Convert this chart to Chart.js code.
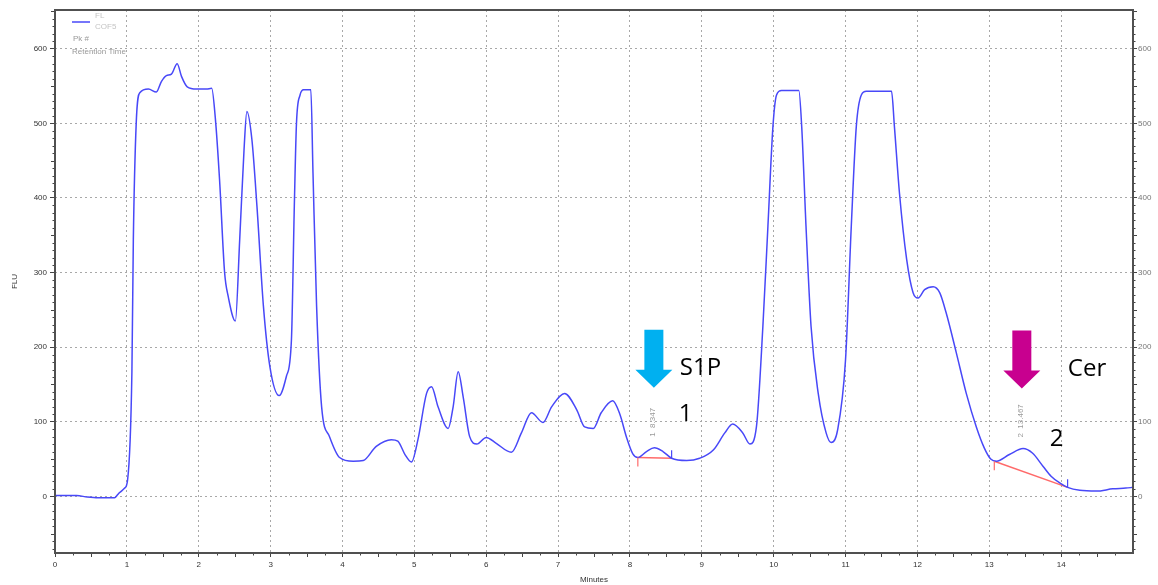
<!DOCTYPE html>
<html>
<head>
<meta charset="utf-8">
<script src="https://cdn.jsdelivr.net/npm/chart.js@4.4.0/dist/chart.umd.min.js"></script>
<style>
html, body { margin: 0; padding: 0; background: #fff; }
</style>
</head>
<body>
<canvas id="grafico" width="1158" height="585"></canvas>
<script>
var minutes = [0, 0.3, 0.45, 0.6, 0.83, 0.87, 0.9, 0.97, 1.01, 1.07, 1.09, 1.13, 1.18, 1.30, 1.41, 1.48, 1.55, 1.62, 1.70, 1.76, 1.84, 1.97, 2.11, 2.18,
	2.23, 2.29, 2.36, 2.41, 2.51, 2.57, 2.63, 2.67, 2.74, 2.81, 2.90, 2.99, 3.12, 3.22, 3.29, 3.33, 3.36, 3.41, 3.46, 3.56, 3.59, 3.64, 3.71, 3.82,
	3.96, 4.15, 4.29, 4.47, 4.68, 4.77, 4.87, 4.96, 5.05, 5.17, 5.24, 5.33, 5.47, 5.54, 5.61, 5.68, 5.77, 5.87, 6.00, 6.14, 6.35, 6.49, 6.63, 6.79,
	6.91, 7.09, 7.26, 7.37, 7.49, 7.60, 7.76, 7.86, 7.95, 8.04, 8.11, 8.23, 8.34, 8.46, 8.58, 8.79, 8.97, 9.16, 9.32, 9.43, 9.57, 9.67, 9.76, 9.85,
	9.92, 9.99, 10.04, 10.11, 10.35, 10.39, 10.45, 10.52, 10.62, 10.73, 10.80, 10.89, 11.00, 11.08, 11.15, 11.22, 11.29, 11.64, 11.68, 11.75, 11.85,
	11.94, 12.01, 12.10, 12.22, 12.31, 12.40, 12.54, 12.68, 12.82, 12.93, 13.02, 13.10, 13.28, 13.47, 13.60, 13.75, 13.86, 13.98, 14.09, 14.26, 14.49,
	14.72, 14.90, 15.0];
var flu = [1, 1, -1, -2, -2, 2, 5, 11, 22, 166, 344, 500, 541, 546, 542, 556, 564, 566, 580, 563, 549, 546, 546, 547,
	508, 424, 300, 268, 235, 344, 464, 516, 478, 389, 255, 174, 135, 161, 210, 389, 500, 538, 545, 545, 433, 255, 120, 80,
	52, 47, 48, 67, 76, 74, 56, 46, 76, 138, 147, 120, 91, 120, 167, 133, 80, 70, 79, 71, 59, 85, 112, 99,
	120, 138, 116, 93, 91, 112, 128, 110, 80, 57, 52, 60, 65, 60, 51, 48, 51, 62, 85, 97, 85, 70, 93, 228,
	362, 496, 538, 544, 544, 496, 362, 228, 138, 85, 72, 89, 183, 362, 496, 538, 543, 543, 496, 407, 318,
	273, 266, 277, 281, 273, 246, 193, 138, 93, 65, 50, 47, 56, 64, 58, 40, 27, 18, 12, 8, 7,
	10, 11, 12];

var xTicks = [0, 1, 2, 3, 4, 5, 6, 7, 8, 9, 10, 11, 12, 13, 14];
var yTicks = [0, 100, 200, 300, 400, 500, 600];

var peakTimes = [8.347, 13.467];
var peakFlu = [65, 64];
var peakNames = ['S1P', 'Cer'];
var arrowColors = ['#00b0f0', '#c8008f'];

var base1X = [8.11, 8.58];
var base1Y = [52, 51];
var base2X = [13.07, 14.09];
var base2Y = [47, 12];

function pairs(xs, ys) {
	var out = [];
	for (var i = 0; i < xs.length; i++) {
		out.push({ x: xs[i], y: ys[i] });
	}
	return out;
}

var smallFont = { family: 'Liberation Sans', size: 8 };

var extras = {
	id: 'extras',
	afterDatasetsDraw: function(chart) {
		var ctx = chart.ctx;
		var xs = chart.scales.x;
		var ys = chart.scales.y;
		var a = chart.chartArea;
		var v, len, i;

		ctx.save();
		// minor ticks
		ctx.strokeStyle = '#444';
		ctx.lineWidth = 1;
		ctx.beginPath();
		for (v = -70; v <= 650; v += 10) {
			if (v % 100 === 0) continue;
			len = (v % 50 === 0) ? 4 : 2.5;
			var py = Math.round(ys.getPixelForValue(v)) + 0.5;
			ctx.moveTo(a.left, py); ctx.lineTo(a.left - len, py);
			ctx.moveTo(a.right, py); ctx.lineTo(a.right + len, py);
		}
		for (v = 0.25; v < 15; v += 0.25) {
			if (Math.abs(v - Math.round(v)) < 0.01) continue;
			len = (Math.abs(v % 1 - 0.5) < 0.01) ? 4 : 2.5;
			var px = Math.round(xs.getPixelForValue(v)) + 0.5;
			ctx.moveTo(px, a.bottom); ctx.lineTo(px, a.bottom + len);
		}
		ctx.stroke();

		// frame
		ctx.strokeStyle = '#505050';
		ctx.lineWidth = 2;
		ctx.strokeRect(a.left, a.top, a.right - a.left, a.bottom - a.top);

		// baseline end marks
		var bases = [[base1X, base1Y], [base2X, base2Y]];
		ctx.lineWidth = 1.2;
		for (i = 0; i < bases.length; i++) {
			var bx = bases[i][0], by = bases[i][1];
			var sx = xs.getPixelForValue(bx[0]), sy = ys.getPixelForValue(by[0]);
			var ex = xs.getPixelForValue(bx[1]), ey = ys.getPixelForValue(by[1]);
			ctx.strokeStyle = '#ff6a6a';
			ctx.beginPath(); ctx.moveTo(sx, sy); ctx.lineTo(sx, sy + 9); ctx.stroke();
			ctx.strokeStyle = '#4848f8';
			ctx.beginPath(); ctx.moveTo(ex, ey); ctx.lineTo(ex, ey - 8); ctx.stroke();
		}

		// peak labels, arrows and names
		for (i = 0; i < peakTimes.length; i++) {
			var cx = xs.getPixelForValue(peakTimes[i]);
			var top = ys.getPixelForValue(peakFlu[i]);

			ctx.save();
			ctx.translate(cx - 2, top - 11);
			ctx.rotate(-Math.PI / 2);
			ctx.fillStyle = '#9a9a9a';
			ctx.font = '8px "Liberation Sans"';
			ctx.textAlign = 'left';
			ctx.textBaseline = 'middle';
			ctx.fillText((i + 1) + '  ' + peakTimes[i], 0, 0);
			ctx.restore();

			var ax = cx - 1;
			var tip = top - 60;
			ctx.fillStyle = arrowColors[i];
			ctx.beginPath();
			ctx.moveTo(ax - 9.5, tip - 58);
			ctx.lineTo(ax + 9.5, tip - 58);
			ctx.lineTo(ax + 9.5, tip - 18);
			ctx.lineTo(ax + 18.5, tip - 18);
			ctx.lineTo(ax, tip);
			ctx.lineTo(ax - 18.5, tip - 18);
			ctx.lineTo(ax - 9.5, tip - 18);
			ctx.closePath();
			ctx.fill();

			ctx.fillStyle = '#000';
			ctx.font = '24px "Open Sans"';
			ctx.textAlign = 'left';
			ctx.textBaseline = 'alphabetic';
			var nameDx = i === 0 ? 25 : 45;
			var numDx = i === 0 ? 24 : 27;
			var numY = i === 0 ? top - 27 : top - 3;
			ctx.fillText(peakNames[i], cx + nameDx, top - 73);
			ctx.fillText(String(i + 1), cx + numDx, numY);
		}

		// legend
		ctx.strokeStyle = '#4848f8';
		ctx.lineWidth = 1.5;
		ctx.beginPath(); ctx.moveTo(72, 22); ctx.lineTo(90, 22); ctx.stroke();
		ctx.font = '8px "Liberation Sans"';
		ctx.textAlign = 'left';
		ctx.textBaseline = 'middle';
		ctx.fillStyle = '#c4c4c4';
		ctx.fillText('FL', 95, 16);
		ctx.fillText('COF5', 95, 27);
		ctx.fillStyle = '#999';
		ctx.fillText('Pk #', 73, 39);
		ctx.fillText('Retention Time', 72, 52);
		ctx.restore();
	}
};

var dados = {
	datasets: [
		{
			label: 'FL',
			data: pairs(minutes, flu),
			borderColor: '#4848f8',
			borderWidth: 1.5,
			pointRadius: 0,
			fill: false,
			cubicInterpolationMode: 'monotone'
		},
		{
			label: 'base 1',
			data: pairs(base1X, base1Y),
			borderColor: '#ff6a6a',
			borderWidth: 1.5,
			pointRadius: 0,
			fill: false
		},
		{
			label: 'base 2',
			data: pairs(base2X, base2Y),
			borderColor: '#ff6a6a',
			borderWidth: 1.5,
			pointRadius: 0,
			fill: false
		}
	]
};

var grafico = new Chart(document.getElementById('grafico'), {
	type: 'line',
	data: dados,
	plugins: [extras],
	options: {
		responsive: false,
		animation: false,
		devicePixelRatio: 1,
		layout: { padding: { top: 10, left: 0, right: 0, bottom: 0 } },
		plugins: {
			legend: { display: false },
			tooltip: { enabled: false }
		},
		scales: {
			x: {
				type: 'linear',
				min: 0,
				max: 15,
				afterBuildTicks: function(s) { s.ticks = xTicks.map(function(v) { return { value: v }; }); },
				afterFit: function(s) { s.height = 32; },
				ticks: { font: smallFont, color: '#333', padding: 3, maxRotation: 0 },
				grid: { color: '#a8a8a8', tickColor: '#444', tickLength: 4, tickBorderDash: [] },
				border: { display: false, dash: [2, 3] },
				title: { display: true, text: 'Minutes', font: smallFont, color: '#333', padding: { top: 0, bottom: 0 } }
			},
			y: {
				position: 'left',
				min: -76,
				max: 652,
				afterBuildTicks: function(s) { s.ticks = yTicks.map(function(v) { return { value: v }; }); },
				afterFit: function(s) { s.width = 55; },
				ticks: { font: smallFont, color: '#333', padding: 3 },
				grid: { color: '#a8a8a8', tickColor: '#444', tickLength: 5, tickBorderDash: [] },
				border: { display: false, dash: [2, 3] },
				title: { display: true, text: 'FLU', font: smallFont, color: '#333', padding: { top: 10, bottom: 0 } }
			},
			y2: {
				position: 'right',
				min: -76,
				max: 652,
				afterBuildTicks: function(s) { s.ticks = yTicks.map(function(v) { return { value: v }; }); },
				afterFit: function(s) { s.width = 25; },
				ticks: { font: smallFont, color: '#777', padding: 1 },
				grid: { drawOnChartArea: false, tickColor: '#444', tickLength: 4 },
				border: { display: false }
			}
		}
	}
});
</script>
</body>
</html>
